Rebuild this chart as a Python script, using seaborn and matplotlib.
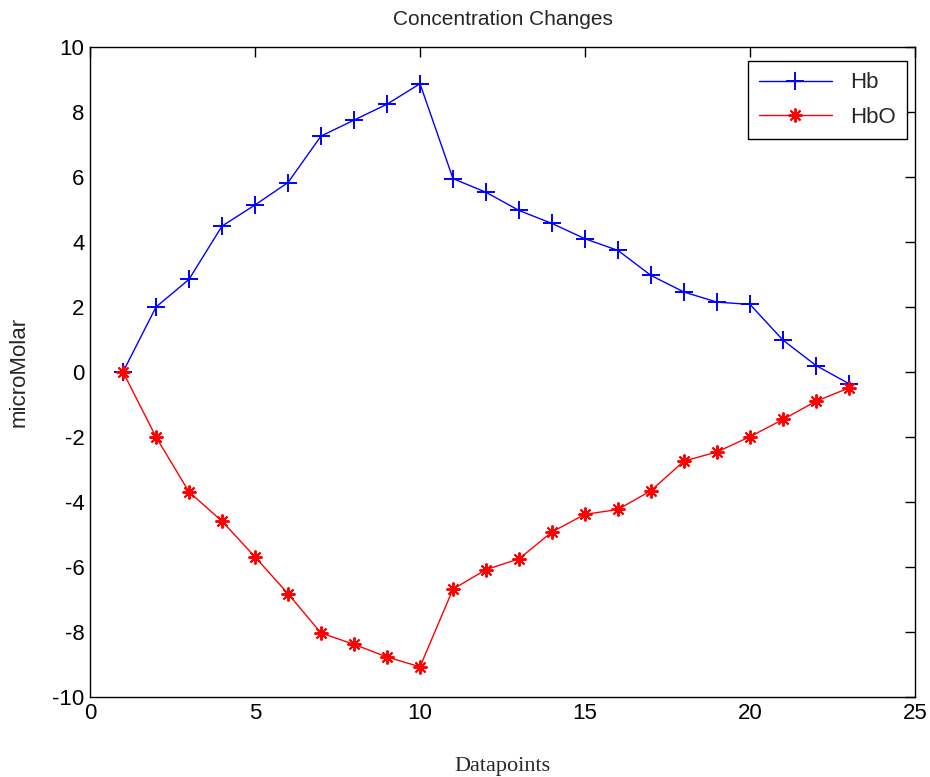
import matplotlib
matplotlib.use("Agg")
import matplotlib.pyplot as plt
import seaborn as sns
import pandas as pd

# Concentration change per datapoint (micromolar)
datapoints = list(range(1, 24))
hb = [0.0, 2.0, 2.85, 4.49, 5.14, 5.83, 7.26, 7.75, 8.24, 8.87, 5.95,
      5.53, 4.97, 4.57, 4.10, 3.74, 2.97, 2.46, 2.15, 2.08, 0.98, 0.20, -0.36]
hbo = [0.0, -2.0, -3.69, -4.59, -5.69, -6.82, -8.03, -8.38, -8.77, -9.07, -6.68,
       -6.08, -5.75, -4.92, -4.38, -4.23, -3.65, -2.74, -2.46, -1.99, -1.46, -0.90, -0.49]
series_names = ["Hb", "HbO"]

x_ticks = [0, 5, 10, 15, 20, 25]
y_ticks = [-10, -8, -6, -4, -2, 0, 2, 4, 6, 8, 10]

sns.set_style("white")
plt.rcParams["font.family"] = ["Liberation Sans", "DejaVu Sans"]
plt.rcParams["axes.unicode_minus"] = False

df_hb = pd.DataFrame({"Datapoints": datapoints, "value": hb})
df_hbo = pd.DataFrame({"Datapoints": datapoints, "value": hbo})

fig = plt.figure(figsize=(9.3, 7.77), dpi=100)
ax = fig.add_axes([90 / 930, 80 / 777, 825 / 930, 650 / 777])

sns.lineplot(data=df_hb, x="Datapoints", y="value", ax=ax, color="#0000ff",
             marker="+", markersize=13, markeredgewidth=1.4, linewidth=1.0,
             markeredgecolor="#0000ff", label=series_names[0])
sns.lineplot(data=df_hbo, x="Datapoints", y="value", ax=ax, color="#ff0000",
             marker=(8, 2, 0), markersize=10, markeredgewidth=1.4, linewidth=1.0,
             markeredgecolor="#ff0000", label=series_names[1])

ax.set_xlim(0, 25)
ax.set_ylim(-10, 10)
ax.set_xticks(x_ticks)
ax.set_yticks(y_ticks)
ax.tick_params(direction="in", length=7, width=1, top=True, right=True,
               labelsize=16, colors="black", pad=4)
for s in ax.spines.values():
    s.set_color("black")
    s.set_linewidth(1.0)

ax.set_title("Concentration Changes", fontsize=15, pad=16)
ax.set_xlabel("Datapoints", fontsize=16, family=["Liberation Serif", "DejaVu Serif"], labelpad=24)
ax.set_ylabel("microMolar", fontsize=16, labelpad=16)

leg = ax.legend(loc="upper right", bbox_to_anchor=(0.990, 0.978), fontsize=16,
                frameon=True, fancybox=False, edgecolor="black", framealpha=1,
                borderaxespad=0, handlelength=3.3, borderpad=0.5, labelspacing=0.6)
leg.get_frame().set_linewidth(1.0)

fig.savefig("out.png", dpi=100)
